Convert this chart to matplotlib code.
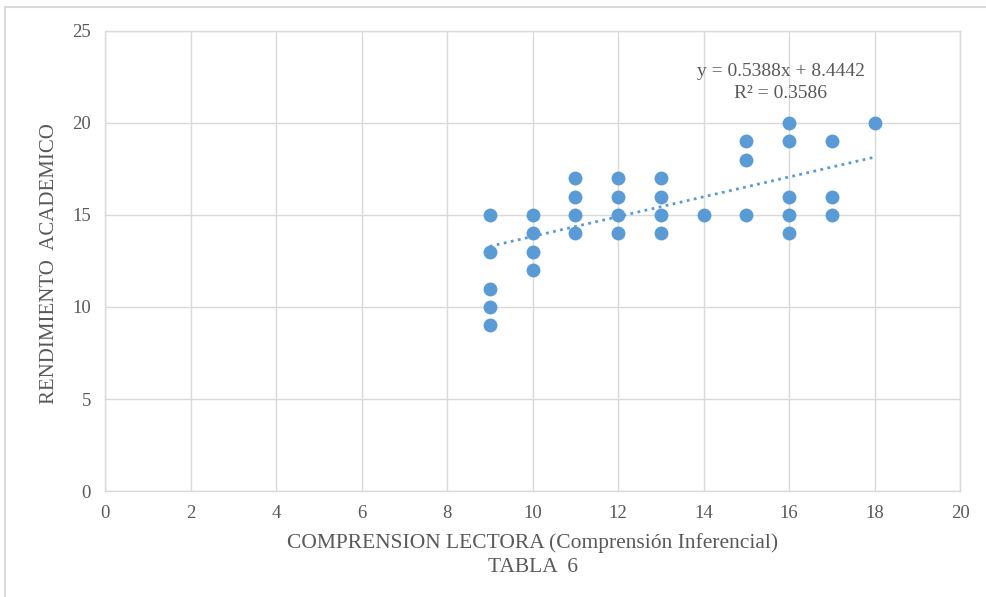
import matplotlib
matplotlib.use("Agg")
import matplotlib.pyplot as plt
from matplotlib.lines import Line2D

x_vals = [9, 9, 9, 9, 9,
          10, 10, 10, 10,
          11, 11, 11, 11,
          12, 12, 12, 12,
          13, 13, 13, 13,
          14,
          15, 15, 15,
          16, 16, 16, 16, 16,
          17, 17, 17,
          18]
y_vals = [15, 13, 11, 10, 9,
          15, 14, 13, 12,
          17, 16, 15, 14,
          17, 16, 15, 14,
          17, 16, 15, 14,
          15,
          19, 18, 15,
          20, 19, 16, 15, 14,
          19, 16, 15,
          20]
slope = 0.5388
intercept = 8.4442
r2 = 0.3586
x_ticks = [0, 2, 4, 6, 8, 10, 12, 14, 16, 18, 20]
y_ticks = [0, 5, 10, 15, 20, 25]

plt.rcParams['font.family'] = ['Liberation Serif', 'DejaVu Serif']
txt = '#595959'
grid = '#d9d9d9'
blue = '#5b9bd5'

fig = plt.figure(figsize=(9.87, 5.97), dpi=100)
ax = fig.add_axes([105/987, 1-491/597, (960-105)/987, (491-31)/597])

ax.set_xlim(0, 20)
ax.set_ylim(0, 25)
ax.set_xticks(x_ticks)
ax.set_yticks(y_ticks)
ax.grid(True, color=grid, linewidth=1)
ax.set_axisbelow(True)
for s in ax.spines.values():
    s.set_color(grid)
    s.set_linewidth(1)
ax.tick_params(length=0, labelsize=13.5, colors=txt, pad=10)

ax.scatter(x_vals, y_vals, s=100, color=blue, zorder=3, linewidths=0)

xs = [min(x_vals), max(x_vals)]
ax.plot(xs, [slope*v + intercept for v in xs], linestyle=(0, (1, 1.6)),
        color=blue, linewidth=2, zorder=2)

ax.text(781/987, 1-72/597, f"y = {slope}x + {intercept}", transform=fig.transFigure,
        ha='center', va='center', fontsize=14, color=txt)
ax.text(781/987, 1-93/597, f"R² = {r2}", transform=fig.transFigure,
        ha='center', va='center', fontsize=14, color=txt)

fig.text(533/987, 1-543/597, "COMPRENSION LECTORA (Comprensión Inferencial)",
         ha='center', va='center', fontsize=15.5, color=txt)
fig.text(533/987, 1-567/597, "TABLA  6", ha='center', va='center', fontsize=15.5, color=txt)
fig.text(50/987, 1-264/597, "RENDIMIENTO  ACADEMICO", rotation=90,
         ha='center', va='center', fontsize=15, color=txt)

fig.add_artist(Line2D([5/987, 5/987], [0, 1-7/597], transform=fig.transFigure,
                      color='#d9d9d9', linewidth=1.5))
fig.add_artist(Line2D([5/987, 1], [1-7/597, 1-7/597], transform=fig.transFigure,
                      color='#d9d9d9', linewidth=1.5))

fig.savefig("out.png", dpi=100)
